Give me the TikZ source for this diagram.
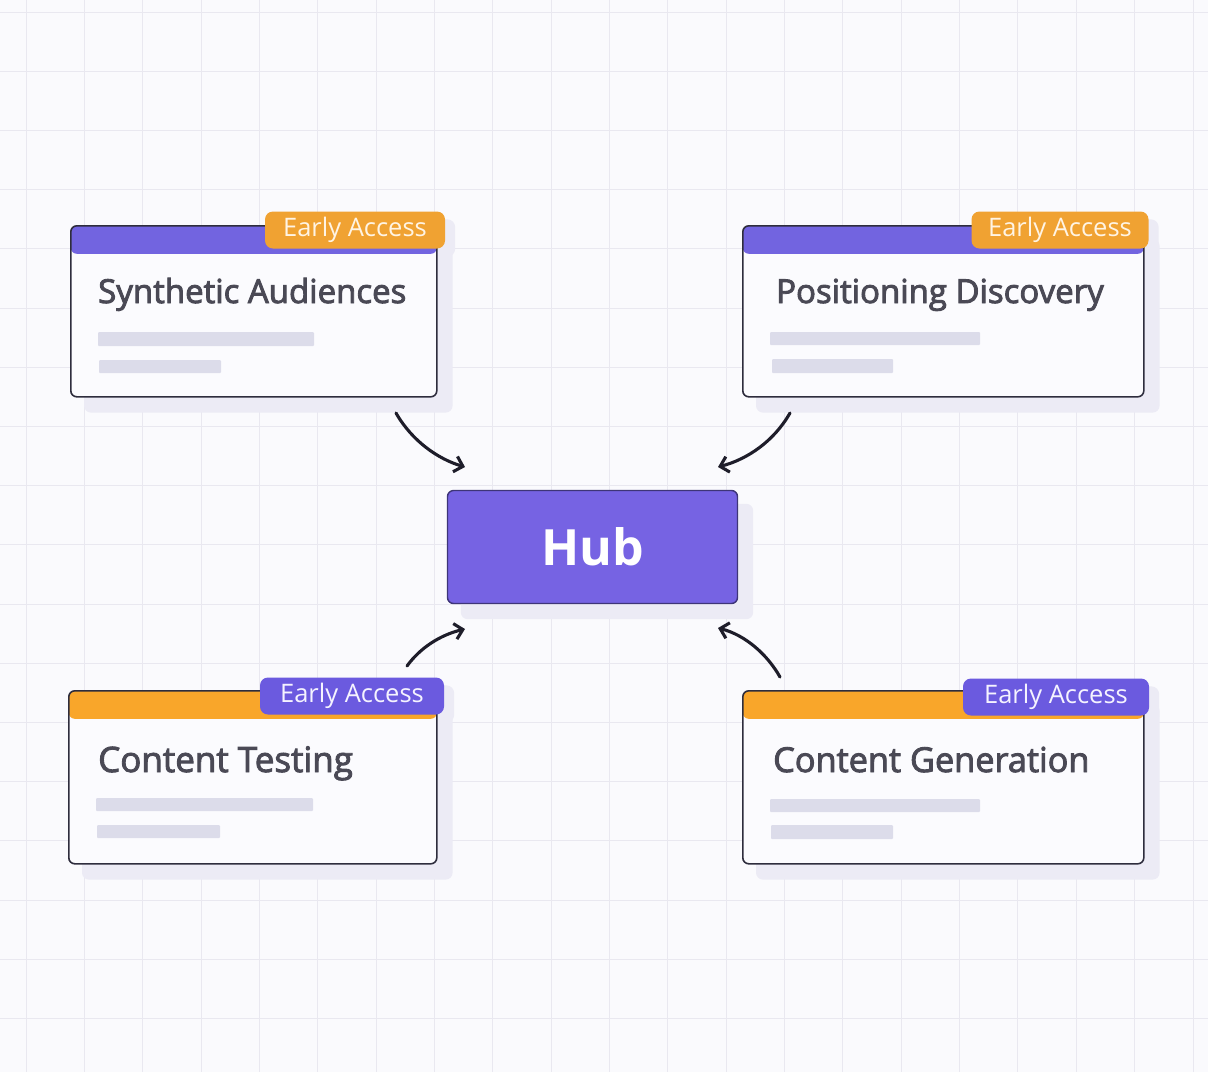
\documentclass[tikz,border=0pt]{standalone}
\usepackage{fontspec}
\setmainfont{Open Sans}
\newcommand\semitext[1]{\special{pdf:literal direct 2 Tr 0.9 w}#1\special{pdf:literal direct 0 Tr}}
\usetikzlibrary{arrows.meta,backgrounds,calc}
\definecolor{bgc}{HTML}{FAFAFD}
\definecolor{gridc}{HTML}{E9E8F0}
\definecolor{shadowc}{HTML}{ECEBF5}
\definecolor{cardfill}{HTML}{FBFBFE}
\definecolor{cardline}{HTML}{2E2D3D}
\definecolor{hpurple}{HTML}{7264E0}
\definecolor{horange}{HTML}{F9A62A}
\definecolor{borange}{HTML}{F0A232}
\definecolor{bpurple}{HTML}{6B5ADF}
\definecolor{titlec}{HTML}{4A4955}
\definecolor{barc}{HTML}{DCDCEA}
\definecolor{hubfill}{HTML}{7663E3}
\definecolor{hubline}{HTML}{3E3578}
\definecolor{arrowc}{HTML}{1E1D2A}
\definecolor{creamc}{HTML}{FFF4E4}
\definecolor{lilac}{HTML}{F5F3FF}
\tikzset{
  card/.style={draw=cardline, line width=1.6pt, fill=cardfill, rounded corners=6pt,
    anchor=north west, inner sep=0pt,
    path picture={\fill[#1] (path picture bounding box.north west) rectangle
      ([yshift=-28pt]path picture bounding box.north east);}},
  badge/.style={rounded corners=8pt, inner sep=0pt, minimum height=37pt,
    font=\fontsize{25.5}{26}\selectfont},
  title/.style={anchor=base west, inner sep=0pt, text=titlec},
  bar/.style={fill=barc, rounded corners=1pt},
  link/.style={draw=arrowc, line width=3.1pt, line cap=round,
    -{Straight Barb[length=8pt,width=16pt,line width=3.1pt]}},
  hubbox/.style={draw=hubline, line width=1.4pt, fill=hubfill, rounded corners=6pt,
    text=white, inner sep=0pt, font=\fontsize{50}{50}\selectfont\bfseries}
}
\begin{document}
\begin{tikzpicture}[x=1pt,y=-1pt]
\useasboundingbox (0,0) rectangle (1208,1072);
% cards
\node[card=hpurple, minimum width=366pt, minimum height=171pt] (sa) at (70,225) {};
\node[card=hpurple, minimum width=401pt, minimum height=171pt] (pd) at (742,225) {};
\node[card=horange, minimum width=368pt, minimum height=173pt] (ct) at (68,690) {};
\node[card=horange, minimum width=401pt, minimum height=173pt] (cg) at (742,690) {};
% titles
\node[title, font=\fontsize{33}{33}\selectfont] (sat) at (98,303) {\semitext{Synthetic Audiences}};
\node[title, font=\fontsize{33}{33}\selectfont] (pdt) at (776,303) {\semitext{Positioning Discovery}};
\node[title, font=\fontsize{35}{35}\selectfont] (ctt) at (98,772) {\semitext{Content Testing}};
\node[title, font=\fontsize{34.3}{35}\selectfont] (cgt) at (773,772) {\semitext{Content Generation}};
% placeholder bars
\fill[bar] (98,332) rectangle (314,346);
\fill[bar] (99,360) rectangle (221,373);
\fill[bar] (770,332) rectangle (980,345);
\fill[bar] (772,359) rectangle (893,373);
\fill[bar] (96,798) rectangle (313,811);
\fill[bar] (97,825) rectangle (220,838);
\fill[bar] (770,799) rectangle (980,812);
\fill[bar] (771,825) rectangle (893,839);
% badges
\node[badge, fill=borange, text=creamc, minimum width=180pt] (sab) at (355,230) {Early Access};
\node[badge, fill=borange, text=creamc, minimum width=177pt] (pdb) at (1060,230) {Early Access};
\node[badge, fill=bpurple, text=lilac, minimum width=184pt] (ctb) at (352,696) {Early Access};
\node[badge, fill=bpurple, text=lilac, minimum width=186pt] (cgb) at (1056,697) {Early Access};
% hub
\node[hubbox, minimum width=290pt, minimum height=113pt] (hub) at (592.5,547) {Hub};
% arrow ends
\coordinate (a1s) at (396,413); \coordinate (a1e) at (465,467);
\coordinate (a2s) at (790,413); \coordinate (a2e) at (718,467);
\coordinate (a3s) at (407,666); \coordinate (a3e) at (465,629);
\coordinate (a4s) at (780,677); \coordinate (a4e) at (718,628);
\draw[link] (a1s) .. controls (412,441) and (438,459) .. (a1e);
\draw[link] (a2s) .. controls (774,441) and (748,459) .. (a2e);
\draw[link] (a3s) .. controls (420,648) and (440,635) .. (a3e);
\draw[link] (a4s) .. controls (767,654) and (745,635) .. (a4e);
\begin{pgfonlayer}{background}
\fill[bgc] (0,0) rectangle (1208,1072);
\foreach \i in {0,...,20} \draw[gridc, line width=1pt] (26+58.35*\i,0) -- (26+58.35*\i,1072);
\foreach \j in {0,...,17} \draw[gridc, line width=1pt] (0,12+59.2*\j) -- (1208,12+59.2*\j);
\foreach \n in {sa,pd,ct,cg,hub}
  \fill[shadowc, rounded corners=7pt] ($(\n.north west)+(14,14)$) rectangle ($(\n.south east)+(15,15)$);
\foreach \n in {sab,pdb,ctb,cgb}
  \fill[shadowc, rounded corners=8pt] ($(\n.north west)+(10,8)$) rectangle ($(\n.south east)+(10,8)$);
\end{pgfonlayer}
\end{tikzpicture}
\end{document}
